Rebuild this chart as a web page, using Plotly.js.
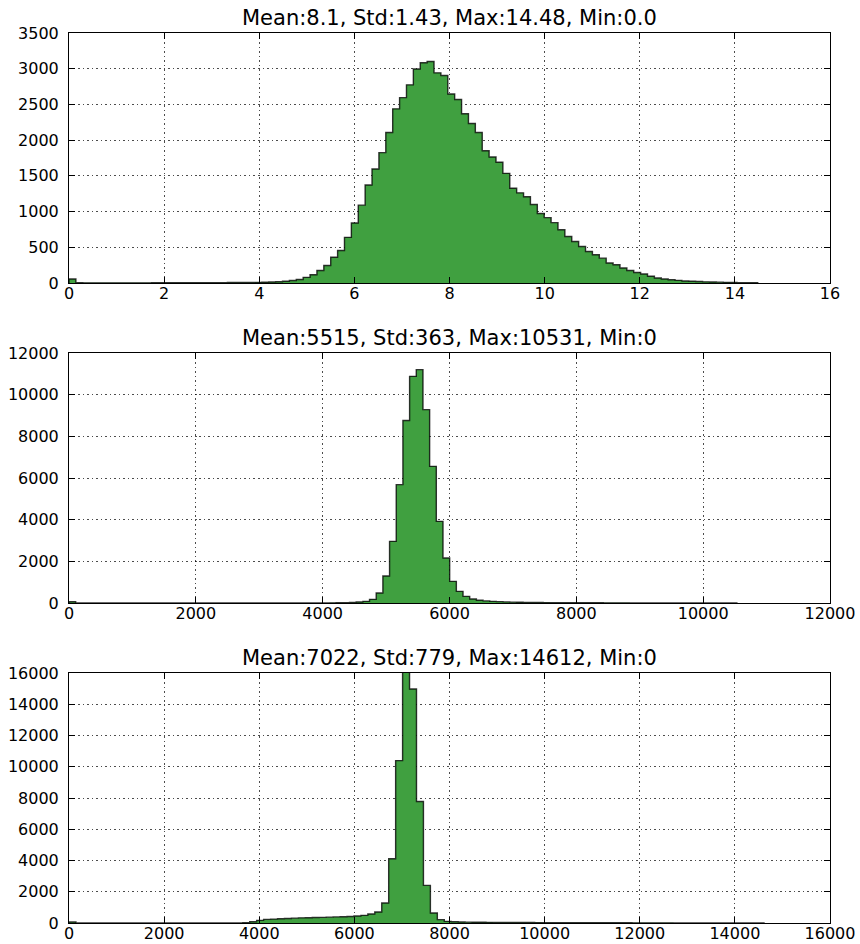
<!DOCTYPE html>
<html>
<head>
<meta charset="utf-8">
<script src="https://cdn.plot.ly/plotly-3.0.1.min.js"></script>
<style>html,body{margin:0;padding:0;background:#fff;}</style>
</head>
<body>
<div id="chart" style="width:860px;height:944px;"></div>
<script>
// ---- Data (100 bins per histogram) ----
const titles = [
  "Mean:8.1, Std:1.43, Max:14.48, Min:0.0",
  "Mean:5515, Std:363, Max:10531, Min:0",
  "Mean:7022, Std:779, Max:14612, Min:0"
];
const minVals = [0, 0, 0];
const maxVals = [14.48, 10531, 14612];

const counts1 = [
  55, 3, 2, 2, 2, 2, 2, 2, 2, 2,
  2, 2, 3, 3, 3, 3, 3, 4, 4, 4,
  5, 5, 5, 6, 6, 7, 8, 9, 10, 13,
  18, 25, 35, 50, 79, 116, 176, 245, 361, 454,
  639, 840, 1090, 1372, 1597, 1825, 2107, 2438, 2595, 2774,
  2995, 3084, 3100, 2942, 2905, 2645, 2570, 2370, 2232, 2107,
  1852, 1765, 1690, 1535, 1327, 1262, 1208, 1100, 972, 915,
  845, 745, 650, 580, 510, 442, 395, 348, 280, 255,
  210, 176, 148, 125, 95, 70, 56, 46, 37, 28,
  24, 20, 16, 14, 12, 9, 7, 5, 4, 3
];
const counts2 = [
  60, 2, 2, 2, 2, 2, 2, 2, 2, 2,
  2, 2, 2, 2, 2, 2, 2, 2, 2, 2,
  2, 2, 2, 2, 2, 3, 3, 3, 3, 3,
  3, 3, 4, 4, 4, 5, 5, 6, 6, 7,
  10, 15, 25, 45, 80, 175, 480, 1296, 2960, 5680,
  8760, 10880, 11200, 9280, 6560, 3920, 2160, 1040, 560, 320,
  190, 130, 100, 80, 65, 52, 42, 35, 30, 25,
  22, 20, 18, 16, 14, 13, 12, 11, 10, 9,
  8, 8, 7, 7, 6, 6, 6, 5, 5, 5,
  5, 4, 4, 4, 4, 3, 3, 3, 3, 3
];
const counts3 = [
  60, 3, 3, 3, 3, 3, 3, 3, 3, 3,
  3, 3, 3, 3, 3, 3, 3, 4, 4, 4,
  4, 5, 5, 6, 8, 20, 80, 170, 230, 250,
  270, 290, 310, 330, 340, 350, 360, 375, 390, 400,
  420, 450, 490, 575, 703, 1278, 4111, 10394, 17000, 14974,
  7775, 2407, 639, 213, 107, 80, 65, 55, 50, 46,
  42, 39, 36, 34, 32, 30, 28, 26, 24, 22,
  21, 20, 19, 18, 17, 16, 15, 14, 13, 12,
  12, 11, 11, 10, 10, 9, 9, 8, 8, 8,
  7, 7, 7, 6, 6, 6, 5, 5, 5, 5
];
const allCounts = [counts1, counts2, counts3];

const xRanges = [[0, 16], [0, 12000], [0, 16000]];
const xDticks = [2, 2000, 2000];
const yRanges = [[0, 3500], [0, 12000], [0, 16000]];
const yDticks = [500, 2000, 2000];

// ---- Build step-filled histogram traces ----
function stepTrace(counts, lo, hi, idx) {
  const n = counts.length;
  const w = (hi - lo) / n;
  const xs = [lo], ys = [0];
  for (let i = 0; i < n; i++) { xs.push(lo + i * w); ys.push(counts[i]); }
  xs.push(hi); ys.push(counts[n - 1]);
  xs.push(hi); ys.push(0);
  const s = idx === 0 ? '' : String(idx + 1);
  return {
    type: 'scatter', mode: 'lines',
    x: xs, y: ys,
    xaxis: 'x' + s, yaxis: 'y' + s,
    line: {shape: 'hv', color: 'rgba(0,0,0,0.78)', width: 1.4},
    fill: 'toself', fillcolor: 'rgb(64,160,64)',
    hoverinfo: 'skip'
  };
}
const traces = allCounts.map((c, k) => stepTrace(c, minVals[k], maxVals[k], k));

// ---- Layout ----
const H = 944, mt = 33, mb = 21;
const plotH = H - mt - mb;
const panelsPx = [[33, 283], [353, 603], [673, 923]];
const domains = panelsPx.map(p => [(H - mb - p[1]) / plotH, (H - mb - p[0]) / plotH]);

const axisCommon = {
  showline: true, linecolor: '#000', linewidth: 1, mirror: 'ticks',
  ticks: 'inside', ticklen: 6, tickwidth: 1, tickcolor: '#000',
  showgrid: true, gridcolor: 'rgba(0,0,0,0.7)', griddash: '1.5px,3px', gridwidth: 1,
  zeroline: false, fixedrange: true, tickformat: 'd',
  tickfont: {family: 'DejaVu Sans', size: 16, color: '#000'}
};

const layout = {
  width: 860, height: 944,
  margin: {l: 69, r: 30, t: mt, b: mb},
  paper_bgcolor: '#fff', plot_bgcolor: '#fff',
  showlegend: false,
  font: {family: 'DejaVu Sans', color: '#000'},
  annotations: []
};
for (let k = 0; k < 3; k++) {
  const s = k === 0 ? '' : String(k + 1);
  layout['xaxis' + s] = Object.assign({}, axisCommon, {
    domain: [0, 1], anchor: 'y' + s,
    range: xRanges[k], tick0: 0, dtick: xDticks[k],
    ticklabelstandoff: -4
  });
  layout['yaxis' + s] = Object.assign({}, axisCommon, {
    domain: domains[k], anchor: 'x' + s,
    range: yRanges[k], tick0: 0, dtick: yDticks[k],
    ticklabelstandoff: 6
  });
  layout.annotations.push({
    text: titles[k], xref: 'paper', yref: 'paper',
    x: 0.5, y: domains[k][1], xanchor: 'center', yanchor: 'middle',
    yshift: 15, showarrow: false,
    font: {family: 'DejaVu Sans', size: 21, color: '#000'}
  });
}

Plotly.newPlot('chart', traces, layout, {displayModeBar: false, staticPlot: true});
</script>
</body>
</html>
